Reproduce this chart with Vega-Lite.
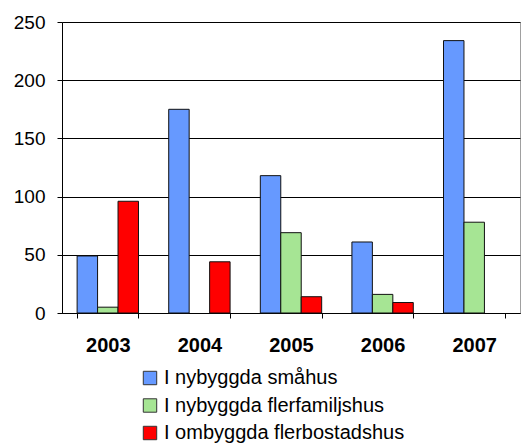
{
  "$schema": "https://vega.github.io/schema/vega-lite/v6.json",
  "width": 458,
  "height": 291,
  "autosize": {"type": "none"},
  "padding": {"left": 62, "top": 22, "right": 3, "bottom": 132},
  "background": "white",
  "config": {
    "font": "Liberation Sans",
    "view": {"stroke": "#a0a0a0", "strokeWidth": 1},
    "axis": {"domainColor": "#000", "tickColor": "#000", "gridColor": "#000", "gridOpacity": 1, "domainWidth": 1, "tickWidth": 1, "gridWidth": 1}
  },
  "data": {
    "values": [
      {"year": "2003", "series": "I nybyggda småhus", "value": 49},
      {"year": "2003", "series": "I nybyggda flerfamiljshus", "value": 5},
      {"year": "2003", "series": "I ombyggda flerbostadshus", "value": 96},
      {"year": "2004", "series": "I nybyggda småhus", "value": 175},
      {"year": "2004", "series": "I ombyggda flerbostadshus", "value": 44},
      {"year": "2005", "series": "I nybyggda småhus", "value": 118},
      {"year": "2005", "series": "I nybyggda flerfamiljshus", "value": 69},
      {"year": "2005", "series": "I ombyggda flerbostadshus", "value": 14},
      {"year": "2006", "series": "I nybyggda småhus", "value": 61},
      {"year": "2006", "series": "I nybyggda flerfamiljshus", "value": 16},
      {"year": "2006", "series": "I ombyggda flerbostadshus", "value": 9},
      {"year": "2007", "series": "I nybyggda småhus", "value": 234},
      {"year": "2007", "series": "I nybyggda flerfamiljshus", "value": 78}
    ]
  },
  "mark": {"type": "bar", "stroke": "#111", "strokeWidth": 1},
  "encoding": {
    "x": {
      "field": "year", "type": "nominal", "title": null,
      "scale": {"paddingInner": 0.33, "paddingOuter": 0.165},
      "axis": {"labelAngle": 0, "labelFontSize": 20, "labelFontWeight": "bold", "labelColor": "#000", "tickBand": "extent", "tickSize": 5, "labelPadding": 17, "grid": false, "domain": true}
    },
    "xOffset": {
      "field": "series", "type": "nominal",
      "sort": ["I nybyggda småhus", "I nybyggda flerfamiljshus", "I ombyggda flerbostadshus"],
      "scale": {"domain": ["I nybyggda småhus", "I nybyggda flerfamiljshus", "I ombyggda flerbostadshus"], "paddingInner": 0, "paddingOuter": 0}
    },
    "y": {
      "field": "value", "type": "quantitative", "title": null,
      "scale": {"domain": [0, 250], "nice": false},
      "axis": {"values": [0, 50, 100, 150, 200, 250], "labelFontSize": 19, "labelColor": "#000", "tickSize": 5, "labelPadding": 12, "grid": true}
    },
    "color": {
      "field": "series", "type": "nominal",
      "scale": {"domain": ["I nybyggda småhus", "I nybyggda flerfamiljshus", "I ombyggda flerbostadshus"], "range": ["#6699ff", "#a6e594", "#ff0000"]},
      "legend": {"title": null, "orient": "none", "legendX": 78, "legendY": 346, "padding": 0, "direction": "vertical", "symbolType": "square", "symbolSize": 180, "symbolStrokeColor": "#333", "symbolStrokeWidth": 1, "symbolOpacity": 1, "labelFontSize": 20, "labelColor": "#000", "labelLimit": 0, "rowPadding": 7.5, "labelOffset": 4}
    }
  }
}
